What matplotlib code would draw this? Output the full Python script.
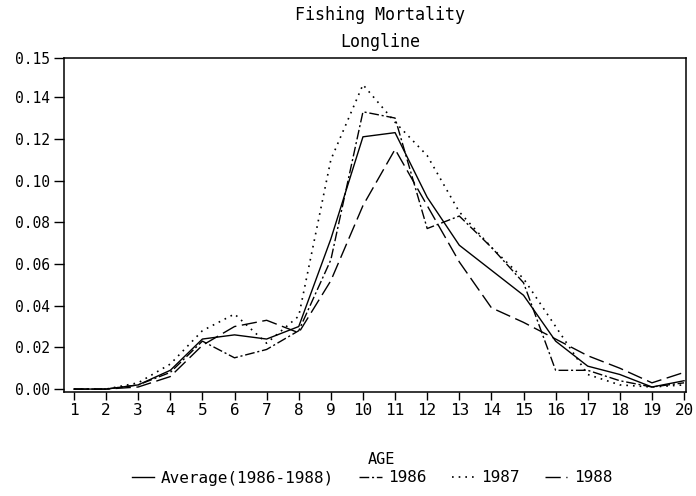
import matplotlib
matplotlib.use('Agg')
import matplotlib.pyplot as plt

# data
ages = list(range(1, 21))
average = [0, 0, 0.002, 0.009, 0.024, 0.026, 0.024, 0.030, 0.072, 0.121,
           0.123, 0.092, 0.069, 0.057, 0.045, 0.023, 0.011, 0.007, 0.001, 0.004]
f1986 = [0, 0, 0.002, 0.008, 0.023, 0.015, 0.019, 0.028, 0.062, 0.133,
         0.130, 0.077, 0.083, 0.068, 0.051, 0.009, 0.009, 0.004, 0.001, 0.003]
f1987 = [0, 0, 0.003, 0.012, 0.028, 0.036, 0.022, 0.035, 0.110, 0.146,
         0.128, 0.112, 0.085, 0.068, 0.053, 0.030, 0.007, 0.002, 0.001, 0.002]
f1988 = [0, 0, 0.001, 0.006, 0.021, 0.030, 0.033, 0.027, 0.052, 0.088,
         0.115, 0.088, 0.061, 0.039, 0.032, 0.024, 0.016, 0.010, 0.003, 0.008]

names = ['Average(1986-1988)', '1986', '1987', '1988']
ytick_vals = [0, 0.02, 0.04, 0.06, 0.08, 0.10, 0.12, 0.14]
ytick_labels = ['0.00', '0.02', '0.04', '0.06', '0.08', '0.10', '0.12', '0.14']
ytop = 0.1588   # top of the frame, labelled 0.15 on the original

mono = 'DejaVu Sans Mono'

fig = plt.figure(figsize=(6.96, 4.96), dpi=100)
ax = fig.add_axes([64/696, 1-392/496, 622/696, 334/496])

ax.plot(ages, average, color='black', lw=1.0, label=names[0])
ax.plot(ages, f1986, color='black', lw=1.0, dashes=[7, 2, 1.5, 2], label=names[1])
ax.plot(ages, f1987, color='black', lw=1.2, dashes=[1, 3], label=names[2])
ax.plot(ages, f1988, color='black', lw=1.0, dashes=[11, 4], label=names[3])

ax.set_xlim(0.69, 20.06)
ax.set_ylim(-0.0014, ytop)
ax.set_xticks(ages)
ax.set_xticklabels([str(a) for a in ages], fontfamily=mono, fontsize=11.5)
ax.set_yticks(ytick_vals + [ytop])
ax.set_yticklabels(ytick_labels + ['0.15'], fontfamily=mono, fontsize=10.5)
ax.tick_params(axis='x', direction='out', length=6, width=1, pad=2)
ax.tick_params(axis='y', direction='out', length=7, width=1, pad=3)
for s in ax.spines.values():
    s.set_linewidth(1.1)

# titles
fig.text(380/696, 1-15/496, 'Fishing Mortality', ha='center', va='center',
         fontfamily=mono, fontsize=12)
fig.text(380/696, 1-42/496, 'Longline', ha='center', va='center',
         fontfamily=mono, fontsize=12)

ax.set_xlabel('AGE', fontfamily=mono, fontsize=11)
ax.xaxis.set_label_coords(0.51, -0.18)

handles, labels = ax.get_legend_handles_labels()
fig.legend(handles, labels, loc='center', bbox_to_anchor=(372/696, 1-478/496),
           ncol=4, frameon=False, handlelength=1.4, handletextpad=0.4,
           columnspacing=1.6, prop={'family': mono, 'size': 11.5})

fig.savefig('out.png', dpi=100, facecolor='white')
